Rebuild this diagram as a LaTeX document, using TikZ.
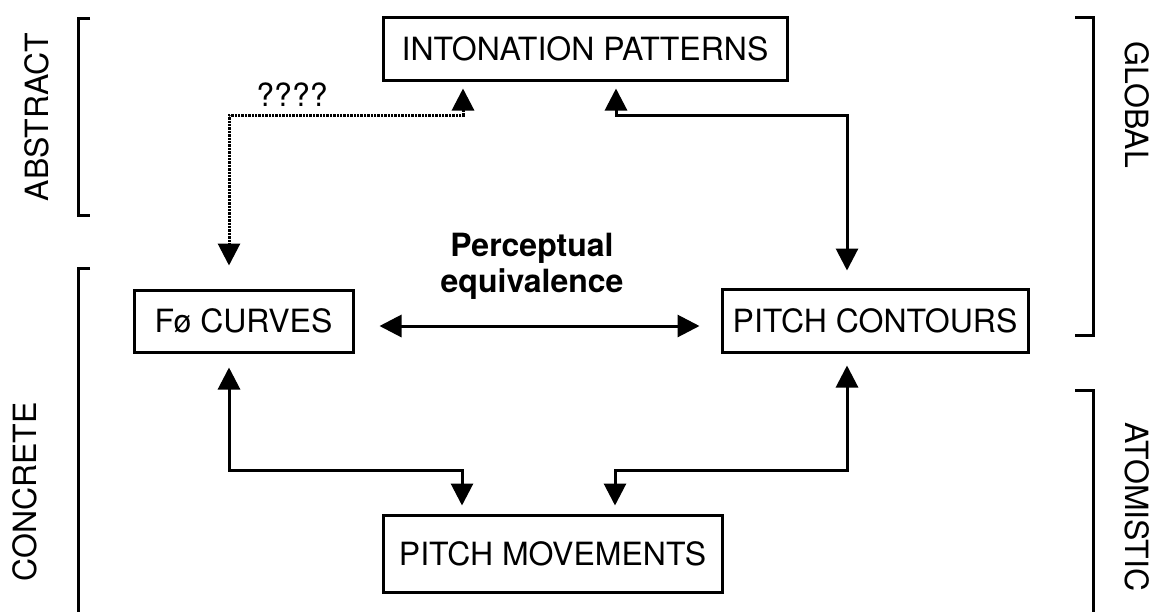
\documentclass[tikz,border=0pt]{standalone}
\usepackage{fontspec}
\setmainfont{TeX Gyre Heros}
\usetikzlibrary{arrows.meta,calc}

\begin{document}
\begin{tikzpicture}[x=0.5pt,y=-0.5pt,
  box/.style={draw, line width=1.5pt, inner sep=0pt, font=\fontsize{16}{19}\selectfont},
  link/.style={line width=1.5pt, {Triangle[length=11pt,width=11pt]}-{Triangle[length=11pt,width=11pt]}},
  fuzzy/.style={link, dash pattern=on 1.2pt off 0.5pt},
  brack/.style={line width=1.5pt},
  side/.style={font=\fontsize{16}{19}\selectfont}]
\useasboundingbox (0,0) rectangle (1156,611);

% Boxes
\node[box, minimum width=202pt, minimum height=31.5pt] (intonation) at (585,48.5) {INTONATION PATTERNS};
\node[box, minimum width=109.5pt, minimum height=31pt] (fo) at (243.5,321) {Fø CURVES};
\node[box, minimum width=153pt, minimum height=31.5pt] (contours) at (875,320.5) {PITCH CONTOURS};
\node[box, minimum width=169.5pt, minimum height=38.5pt] (movements) at (552.5,553.5) {PITCH MOVEMENTS};

% Labels
\node[side] (quest) at (292,95) {????};
\node[side, font=\fontsize{16}{18}\selectfont\bfseries, align=center] (equiv) at (532,266) {Perceptual\\equivalence};

% Connectors
\coordinate (qa) at (229,115);
\coordinate (qb) at (463,115);
\draw[fuzzy, shorten <=3.5pt, shorten >=11.5pt] (intonation.south -| qb) -- (qb) -- (qa) -- (fo.north -| qa);

\coordinate (ga) at (616,115);
\coordinate (gb) at (847,115);
\draw[link, shorten <=3.5pt, shorten >=8.5pt] (intonation.south -| ga) -- (ga) -- (gb) -- (contours.north -| gb);

\coordinate (eq) at (532,326);
\draw[link, shorten <=12.5pt, shorten >=10.5pt] (fo.east |- eq) -- (contours.west |- eq);

\coordinate (la) at (229,470);
\coordinate (lb) at (462,470);
\draw[link, shorten <=7pt, shorten >=4pt] (fo.south -| la) -- (la) -- (lb) -- (movements.north -| lb);

\coordinate (ra) at (847,470);
\coordinate (rb) at (615,470);
\draw[link, shorten <=6pt, shorten >=4pt] (contours.south -| ra) -- (ra) -- (rb) -- (movements.north -| rb);

% Side brackets
\draw[brack] (90,18) -- (78,18) -- (78,215) -- (90,215);
\draw[brack] (90,268) -- (78,268) -- (78,615);
\draw[brack] (1075,17) -- (1093,17) -- (1093,335) -- (1075,335);
\draw[brack] (1075,390) -- (1093,390) -- (1093,615);

\node[side, rotate=90] (abstract) at (37,117) {ABSTRACT};
\node[side, rotate=90] (concrete) at (25,492) {CONCRETE};
\node[side, rotate=-90] (global) at (1137,105) {GLOBAL};
\node[side, rotate=-90] (atomistic) at (1137,507) {ATOMISTIC};
\end{tikzpicture}
\end{document}
